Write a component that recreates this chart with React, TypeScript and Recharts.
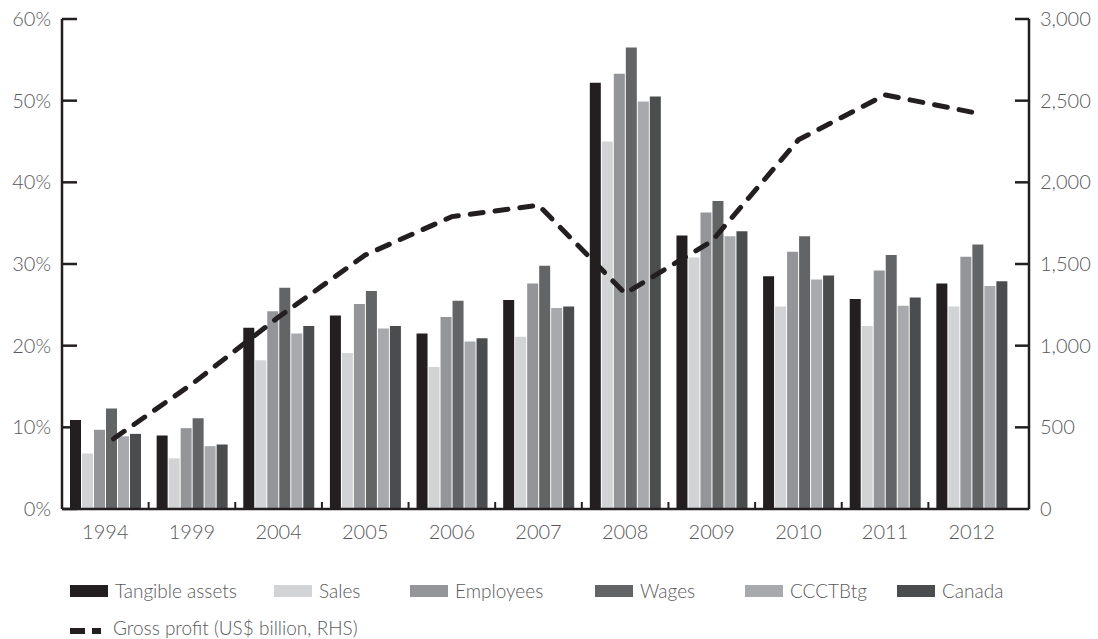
import { ComposedChart, Bar, Line, XAxis, YAxis } from 'recharts'

// Share of activity by allocation key (LHS, %) and gross profit (RHS, US$ bn)
const YEARS = ['1994', '1999', '2004', '2005', '2006', '2007', '2008', '2009', '2010', '2011', '2012']
const TANGIBLE = [10.9, 9.0, 22.2, 23.7, 21.5, 25.6, 52.2, 33.5, 28.5, 25.7, 27.6]
const SALES = [6.8, 6.2, 18.2, 19.1, 17.4, 21.1, 45.0, 30.8, 24.8, 22.4, 24.8]
const EMPLOYEES = [9.7, 9.9, 24.2, 25.1, 23.5, 27.6, 53.3, 36.3, 31.5, 29.2, 30.9]
const WAGES = [12.3, 11.1, 27.1, 26.7, 25.5, 29.8, 56.5, 37.7, 33.4, 31.1, 32.4]
const CCCTBTG = [8.9, 7.7, 21.5, 22.1, 20.5, 24.6, 49.9, 33.4, 28.1, 24.9, 27.3]
const CANADA = [9.2, 7.9, 22.4, 22.4, 20.9, 24.8, 50.5, 34.0, 28.6, 25.9, 27.9]
const GROSS_PROFIT = [395, 765, 1175, 1555, 1790, 1860, 1320, 1640, 2260, 2535, 2430]

const LEFT_TICKS = [0, 10, 20, 30, 40, 50, 60]
const RIGHT_TICKS = [0, 500, 1000, 1500, 2000, 2500, 3000]

const SERIES = [
  { key: 'tangible', label: 'Tangible assets', color: '#231F20', values: TANGIBLE },
  { key: 'sales', label: 'Sales', color: '#D1D3D4', values: SALES },
  { key: 'employees', label: 'Employees', color: '#939598', values: EMPLOYEES },
  { key: 'wages', label: 'Wages', color: '#636466', values: WAGES },
  { key: 'ccctbtg', label: 'CCCTBtg', color: '#A7A9AC', values: CCCTBTG },
  { key: 'canada', label: 'Canada', color: '#4B4C4E', values: CANADA },
]

const data = YEARS.map((year, i) => {
  const row: Record<string, string | number> = { year, profit: GROSS_PROFIT[i] }
  SERIES.forEach(s => { row[s.key] = s.values[i] })
  return row
})

const INK = '#231F20'
const TEXT = '#58595B'
const FONT = 'Lato, "Open Sans", sans-serif'
const FS = 20
const LEGEND_FS = 19

// legend layout (left edge of each swatch)
const LEGEND_LEFT = [70, 274, 410, 595, 745, 897]

function LeftTick({ x, y, payload }: any) {
  const ax = x + 11
  return (
    <g>
      <line x1={ax} x2={ax + 15} y1={y} y2={y} stroke={INK} strokeWidth={2.5} />
      <text x={x} y={y} dy={7} textAnchor="end" fill={TEXT} fontSize={FS} fontFamily={FONT} fontWeight={300}>
        {payload.value}%
      </text>
    </g>
  )
}

function RightTick({ x, y, payload }: any) {
  const ax = x - 11
  return (
    <g>
      {payload.value !== 0 && <line x1={ax - 14} x2={ax} y1={y} y2={y} stroke={INK} strokeWidth={2.5} />}
      <text x={x} y={y} dy={7} textAnchor="start" fill={TEXT} fontSize={FS} fontFamily={FONT} fontWeight={300}>
        {payload.value.toLocaleString('en-US')}
      </text>
    </g>
  )
}

function BottomTick({ x, y, payload, index }: any) {
  const half = payload.offset || 43.3
  const ay = y - 8
  return (
    <g>
      {index > 0 && <line x1={x - half} x2={x - half} y1={ay} y2={ay - 7} stroke={INK} strokeWidth={2} />}
      <text x={x} y={y} dy={22} textAnchor="middle" fill={TEXT} fontSize={FS} fontFamily={FONT} fontWeight={300}>
        {payload.value}
      </text>
    </g>
  )
}

export default function App() {
  return (
    <div style={{ position: 'absolute', left: 0, top: 0, width: 1098, height: 639, background: '#fff', overflow: 'hidden' }}>
      <ComposedChart
        width={1098}
        height={639}
        data={data}
        margin={{ top: 19, right: 0, left: 0, bottom: 90 }}
        barGap={1}
        barSize={11}
      >
        <XAxis
          dataKey="year"
          tickLine={false}
          tickSize={0}
          tickMargin={8}
          height={40}
          interval={0}
          padding={{ left: 0, right: 14 }}
          axisLine={{ stroke: INK, strokeWidth: 2.5 }}
          tick={<BottomTick />}
        />
        <YAxis
          yAxisId="left"
          orientation="left"
          width={62}
          domain={[0, 60]}
          ticks={LEFT_TICKS}
          tickLine={false}
          tickSize={0}
          tickMargin={11}
          axisLine={{ stroke: INK, strokeWidth: 2.5 }}
          tick={<LeftTick />}
        />
        <YAxis
          yAxisId="right"
          orientation="right"
          width={69}
          domain={[0, 3000]}
          ticks={RIGHT_TICKS}
          tickLine={false}
          tickSize={0}
          tickMargin={11}
          axisLine={{ stroke: INK, strokeWidth: 2.5 }}
          tick={<RightTick />}
        />
        {SERIES.map(s => (
          <Bar key={s.key} yAxisId="left" dataKey={s.key} name={s.label} fill={s.color} isAnimationActive={false} />
        ))}
        <Line
          yAxisId="right"
          dataKey="profit"
          type="linear"
          stroke={INK}
          strokeWidth={5}
          strokeDasharray="13 12"
          strokeDashoffset={15}
          strokeLinecap="round"
          dot={false}
          activeDot={false}
          isAnimationActive={false}
        />
      </ComposedChart>

      {SERIES.map((s, i) => (
        <div key={s.key} style={{ position: 'absolute', left: LEGEND_LEFT[i], top: 579, display: 'flex', alignItems: 'center', fontFamily: FONT, fontWeight: 300, fontSize: LEGEND_FS, color: TEXT, whiteSpace: 'nowrap' }}>
          <span style={{ display: 'inline-block', width: 38, height: 12, background: s.color, marginRight: 7 }} />
          {s.label}
        </div>
      ))}
      <div style={{ position: 'absolute', left: 68, top: 611, display: 'flex', alignItems: 'center', fontFamily: FONT, fontWeight: 300, fontSize: LEGEND_FS, color: TEXT, whiteSpace: 'nowrap' }}>
        <svg width={40} height={24} style={{ marginRight: 5, marginTop: 8 }}>
          <line x1={2} x2={17} y1={12} y2={12} stroke={INK} strokeWidth={6} />
          <line x1={24} x2={33} y1={12} y2={12} stroke={INK} strokeWidth={6} />
        </svg>
        Gross profit (US$ billion, RHS)
      </div>
    </div>
  )
}
